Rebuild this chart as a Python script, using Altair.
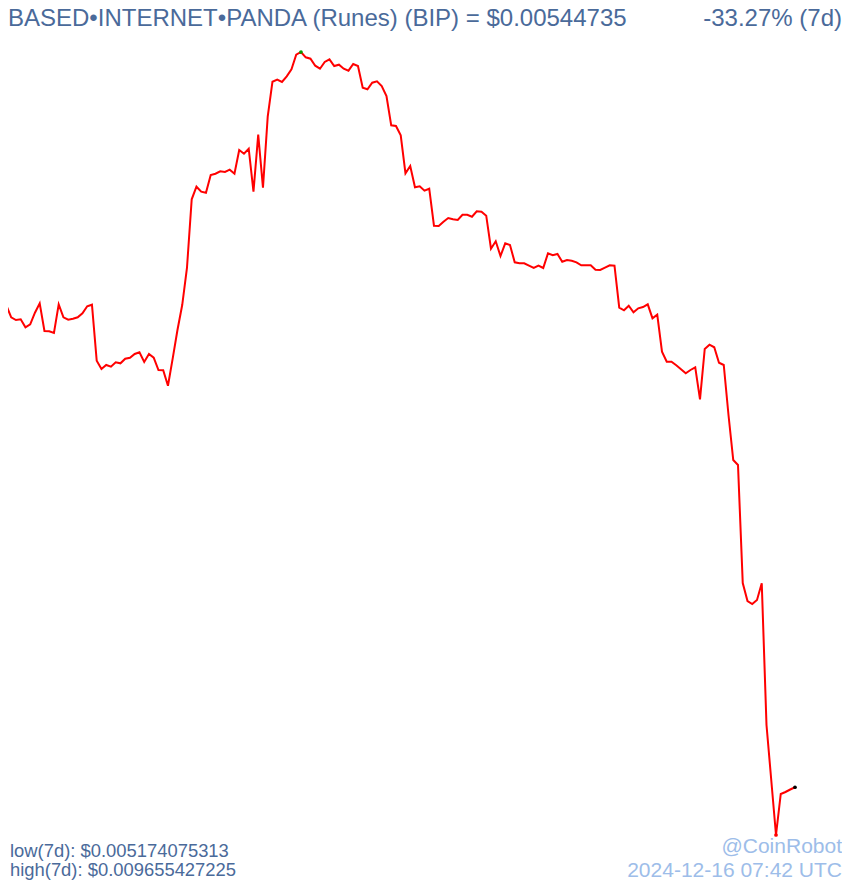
import altair as alt
import pandas as pd

# hourly prices over 7 days (USD)
hours = list(range(168))
prices = [
    0.0081691, 0.0082034, 0.0081370, 0.0081216, 0.0081256, 0.0080798, 0.0080969, 0.0081633,
    0.0082171, 0.0080586, 0.0080569, 0.0080472, 0.0082114, 0.0081370, 0.0081233, 0.0081290,
    0.0081370, 0.0081599, 0.0082000, 0.0082091, 0.0078886, 0.0078411, 0.0078640, 0.0078543,
    0.0078795, 0.0078737, 0.0079001, 0.0079058, 0.0079270, 0.0079367, 0.0078812, 0.0079270,
    0.0079058, 0.0078354, 0.0078337, 0.0077455, 0.0079024, 0.0080643, 0.0082074, 0.0084192,
    0.0088124, 0.0088845, 0.0088559, 0.0088501, 0.0089514, 0.0089589, 0.0089726, 0.0089686,
    0.0089818, 0.0089589, 0.0090945, 0.0090733, 0.0091020, 0.0088559, 0.0091821, 0.0088788,
    0.0092851, 0.0094854, 0.0094969, 0.0094837, 0.0095163, 0.0095564, 0.0096400, 0.009655427225,
    0.0096251, 0.0096171, 0.0095770, 0.0095598, 0.0095982, 0.0096136, 0.0095753, 0.0095827,
    0.0095598, 0.0095484, 0.0095867, 0.0095753, 0.0094511, 0.0094419, 0.0094797, 0.0094877,
    0.0094608, 0.0094036, 0.0092359, 0.0092319, 0.0091787, 0.0089612, 0.0090029, 0.0088810,
    0.0088868, 0.0088616, 0.0088730, 0.0086613, 0.0086596, 0.0086842, 0.0087053, 0.0086979,
    0.0086939, 0.0087242, 0.0087242, 0.0087128, 0.0087437, 0.0087414, 0.0087185, 0.0085296,
    0.0085720, 0.0084879, 0.0085605, 0.0085508, 0.0084518, 0.0084461, 0.0084461, 0.0084323,
    0.0084192, 0.0084323, 0.0084192, 0.0085033, 0.0084919, 0.0084993, 0.0084552, 0.0084650,
    0.0084609, 0.0084518, 0.0084346, 0.0084346, 0.0084346, 0.0084094, 0.0084077, 0.0084209,
    0.0084346, 0.0084323, 0.0081920, 0.0081771, 0.0082034, 0.0081656, 0.0081885, 0.0081960,
    0.0082114, 0.0081313, 0.0081519, 0.0079401, 0.0078829, 0.0078829, 0.0078623, 0.0078394,
    0.0078165, 0.0078354, 0.0078508, 0.0076677, 0.0079556, 0.0079802, 0.0079653, 0.0078772,
    0.0078640, 0.0075778, 0.0073203, 0.0072917, 0.0066163, 0.0065133, 0.0064961, 0.0065190,
    0.0066146, 0.0058036, 0.0054888, 0.005174075313, 0.0054087, 0.0054202, 0.0054345, 0.00544735,
]

low_price = 0.005174075313
high_price = 0.009655427225
title_text = "BASED•INTERNET•PANDA (Runes) (BIP) = $0.00544735"
change_text = "-33.27% (7d)"
low_text = "low(7d): $0.005174075313"
high_text = "high(7d): $0.009655427225"
brand_text = "@CoinRobot"
stamp_text = "2024-12-16 07:42 UTC"

df = pd.DataFrame({"hour": hours, "price": prices})
hi_idx = prices.index(high_price)
lo_idx = prices.index(low_price)
marks_df = pd.DataFrame({
    "hour": [hours[hi_idx], hours[lo_idx], hours[-1]],
    "price": [high_price, low_price, prices[-1]],
    "kind": ["high", "low", "last"],
})

FONT = "Liberation Sans"
BLUE = "#4a6a9a"
LIGHT = "#9dbde9"

xs = alt.X("hour:Q", scale=alt.Scale(domain=[0, 167], range=[1.7, 795], nice=False, zero=False), axis=None)
ys = alt.Y("price:Q", scale=alt.Scale(domain=[low_price, high_price], range=[835, 52], nice=False, zero=False), axis=None)

line = alt.Chart(df).mark_line(color="#ff0000", strokeWidth=2, clip=False).encode(x=xs, y=ys)
dots = alt.Chart(marks_df).mark_point(filled=True, size=14, opacity=1, clip=False).encode(
    x=xs, y=ys,
    color=alt.Color("kind:N", scale=alt.Scale(domain=["high", "low", "last"], range=["#00a000", "#ff0000", "#000000"]), legend=None),
)

def label(text, x, y, size, color, align="left"):
    return alt.Chart(pd.DataFrame({"t": [text]})).mark_text(
        font=FONT, fontSize=size, color=color, align=align, baseline="alphabetic"
    ).encode(text="t:N", x=alt.value(x), y=alt.value(y))

chart = alt.layer(
    line, dots,
    label(title_text, 8, 26, 24, BLUE),
    label(change_text, 842, 26, 24, BLUE, "right"),
    label(low_text, 10, 857, 18.4, BLUE),
    label(high_text, 10, 876, 18.4, BLUE),
    label(brand_text, 842, 853, 21, LIGHT, "right"),
    label(stamp_text, 842, 877, 21, LIGHT, "right"),
).properties(
    width=842, height=880,
    autosize=alt.AutoSizeParams(type="none"),
    padding={"left": -8, "top": -8, "right": 0, "bottom": 0},
).configure_view(stroke=None)

chart.save("out.html", embed_options={"renderer": "svg", "actions": False})
